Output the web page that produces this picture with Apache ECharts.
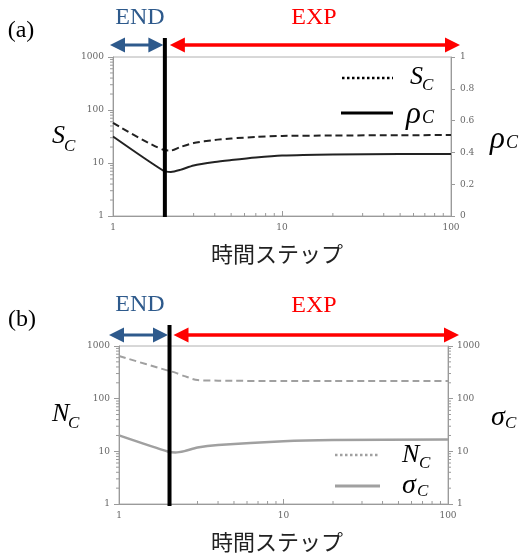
<!DOCTYPE html>
<html>
<head>
<meta charset="utf-8">
<script src="https://cdn.jsdelivr.net/npm/echarts@6/dist/echarts.min.js"></script>
<style>
html,body{margin:0;padding:0;background:#fff}
#main{width:520px;height:556px}
</style>
</head>
<body>
<div id="main"></div>
<script>
// 目盛り
var stepTicks = [1, 10, 100];
var logTicks = [1, 10, 100, 1000];
var rhoTicks = [0, 0.2, 0.4, 0.6, 0.8, 1];
var phaseSplit = 2; // END / EXP の境目

// (a) S_C と rho_C
var stepsA = [1, 2, 2.2, 2.5, 3, 4, 5, 7, 10, 20, 50, 100];
var scA = [57, 17.6, 17.2, 20, 23.8, 27.2, 29, 31, 32.4, 33, 33.5, 33.6];
var rhoA = [0.50, 0.283, 0.277, 0.29, 0.318, 0.34, 0.352, 0.368, 0.38, 0.387, 0.39, 0.39];

// (b) N_C と sigma_C
var stepsB = [1, 2, 2.2, 2.5, 3, 4, 10, 20, 100];
var ncB = [645, 338, 312, 268, 225, 220, 216, 216, 216];
var sigmaB = [20.1, 9.8, 9.5, 10.1, 11.8, 13.2, 15.6, 16.4, 16.7];

function pairs(xs, ys) {
    return xs.map(function (x, i) { return [x, ys[i]]; });
}

var chart = echarts.init(document.getElementById('main'));
var axisGray = '#9a9a9a';
var tickFont = {color: '#666', fontFamily: 'DejaVu Serif', fontSize: 9};
var serif = 'Liberation Serif';
var plain = function (v) { return String(v); };

function xAxisLog(gi) {
    return {
        type: 'log', logBase: 10, gridIndex: gi,
        min: stepTicks[0], max: stepTicks[stepTicks.length - 1],
        axisLine: {lineStyle: {color: axisGray}},
        axisTick: {inside: true, length: 5, lineStyle: {color: axisGray}},
        axisLabel: Object.assign({margin: 7, formatter: plain}, tickFont),
        splitLine: {show: false}
    };
}
function yAxisLog(gi, pos) {
    return {
        type: 'log', logBase: 10, gridIndex: gi, position: pos,
        min: logTicks[0], max: logTicks[logTicks.length - 1],
        axisLine: {show: true, lineStyle: {color: axisGray}},
        axisTick: {show: true, length: 5, lineStyle: {color: axisGray}},
        axisLabel: Object.assign({margin: 9, formatter: plain}, tickFont),
        splitLine: {show: false}
    };
}

var option = {
    animation: false,
    grid: [
        {left: 113, top: 57, width: 338, height: 159, show: true, borderColor: '#b0b0b0', borderWidth: 1},
        {left: 119, top: 346, width: 329, height: 158, show: true, borderColor: '#b0b0b0', borderWidth: 1}
    ],
    xAxis: [xAxisLog(0), xAxisLog(1)],
    yAxis: [
        yAxisLog(0, 'left'),
        {
            type: 'value', gridIndex: 0, position: 'right',
            min: rhoTicks[0], max: rhoTicks[rhoTicks.length - 1], interval: 0.2,
            axisLine: {show: true, lineStyle: {color: axisGray}},
            axisTick: {show: true, length: 4, lineStyle: {color: axisGray}},
            axisLabel: Object.assign({margin: 9}, tickFont),
            splitLine: {show: false}
        },
        yAxisLog(1, 'left'),
        yAxisLog(1, 'right')
    ],
    series: [
        {
            name: 'S_C', type: 'line', xAxisIndex: 0, yAxisIndex: 0,
            data: pairs(stepsA, scA), showSymbol: false, smooth: 0.25,
            lineStyle: {color: '#222', width: 2, type: [7, 4]}
        },
        {
            name: 'rho_C', type: 'line', xAxisIndex: 0, yAxisIndex: 1,
            data: pairs(stepsA, rhoA), showSymbol: false, smooth: 0.25,
            lineStyle: {color: '#222', width: 2}
        },
        {
            name: 'N_C', type: 'line', xAxisIndex: 1, yAxisIndex: 2,
            data: pairs(stepsB, ncB), showSymbol: false, smooth: 0.25,
            lineStyle: {color: '#a0a0a0', width: 2, type: [7, 4]}
        },
        {
            name: 'sigma_C', type: 'line', xAxisIndex: 1, yAxisIndex: 3,
            data: pairs(stepsB, sigmaB), showSymbol: false, smooth: 0.25,
            lineStyle: {color: '#a0a0a0', width: 2.5}
        }
    ]
};
chart.setOption(option);

// ここから注釈（矢印・記号・補助目盛り）
var g = [];
function txt(s, x, y, size, color, opts) {
    opts = opts || {};
    g.push({
        type: 'text', x: x, y: y, z: 100,
        style: {
            text: s, fill: color || '#000',
            font: (opts.italic ? 'italic ' : '') + size + 'px ' + (opts.family || serif),
            align: opts.align || 'center', verticalAlign: 'middle'
        }
    });
}
function seg(x1, y1, x2, y2, color, w, dash) {
    g.push({
        type: 'line', z: 100,
        shape: {x1: x1, y1: y1, x2: x2, y2: y2},
        style: {stroke: color, lineWidth: w, lineDash: dash || null}
    });
}
function arrow(x1, x2, y, color, w, head, hw) {
    seg(x1 + head - 1, y, x2 - head + 1, y, color, w);
    g.push({type: 'polygon', z: 100, shape: {points: [[x1, y], [x1 + head, y - hw], [x1 + head, y + hw]]}, style: {fill: color}});
    g.push({type: 'polygon', z: 100, shape: {points: [[x2, y], [x2 - head, y - hw], [x2 - head, y + hw]]}, style: {fill: color}});
}

var minorVals = [];
for (var d = 1; d <= 100; d *= 10) {
    for (var k = 2; k <= 9; k++) minorVals.push(k * d);
}

function panel(xi, yiL, yiR, logRight) {
    var x0 = chart.convertToPixel({xAxisIndex: xi}, 1);
    var x1 = chart.convertToPixel({xAxisIndex: xi}, 100);
    var y0 = chart.convertToPixel({yAxisIndex: yiL}, 1);
    minorVals.forEach(function (v) {
        if (v < 100) {
            var px = chart.convertToPixel({xAxisIndex: xi}, v);
            seg(px, y0, px, y0 - 3, axisGray, 1);
        }
        var py = chart.convertToPixel({yAxisIndex: yiL}, v);
        seg(x0 - 3, py, x0, py, axisGray, 1);
        if (logRight) {
            var pr = chart.convertToPixel({yAxisIndex: yiR}, v);
            seg(x1, pr, x1 + 3, pr, axisGray, 1);
        }
    });
    return chart.convertToPixel({xAxisIndex: xi}, phaseSplit);
}

// (a)
var splitA = panel(0, 0, 1, false);
seg(splitA + 1, 38, splitA + 1, 217, '#000', 4);
arrow(110, splitA - 0.5, 45, '#2E5A8C', 3, 15, 7.5);
arrow(splitA + 6, 460, 45, '#FF0000', 3.5, 15, 7.5);
txt('(a)', 21, 31, 24, '#000');
txt('END', 140, 18, 24, '#2E5A8C');
txt('EXP', 314, 18, 24, '#FF0000');
txt('時間ステップ', 277, 254, 22, '#222', {family: 'Noto Sans CJK JP'});
txt('S', 52, 136, 26, '#000', {italic: true, align: 'left'});
txt('C', 64, 147, 17, '#000', {italic: true, align: 'left'});
txt('ρ', 490, 140, 31, '#000', {italic: true, align: 'left'});
txt('C', 506, 143, 18, '#000', {italic: true, align: 'left'});
// 凡例 (a)
seg(342, 78, 393, 78, '#000', 2.5, [2.5, 2.5]);
txt('S', 410, 77, 26, '#000', {italic: true, align: 'left'});
txt('C', 422, 86, 17, '#000', {italic: true, align: 'left'});
seg(341, 113, 393, 113, '#000', 3);
txt('ρ', 406, 115, 31, '#000', {italic: true, align: 'left'});
txt('C', 422, 118, 18, '#000', {italic: true, align: 'left'});

// (b)
var splitB = panel(1, 2, 3, true);
seg(splitB + 1, 325, splitB + 1, 506, '#000', 4);
arrow(109, splitB - 0.5, 335, '#2E5A8C', 3, 15, 7.5);
arrow(splitB + 5, 459, 335, '#FF0000', 3.5, 15, 7.5);
txt('(b)', 22, 320, 24, '#000');
txt('END', 140, 305, 24, '#2E5A8C');
txt('EXP', 314, 306, 24, '#FF0000');
txt('時間ステップ', 277, 542, 22, '#222', {family: 'Noto Sans CJK JP'});
txt('N', 52, 414, 26, '#000', {italic: true, align: 'left'});
txt('C', 68, 424, 17, '#000', {italic: true, align: 'left'});
txt('σ', 491, 418, 28, '#000', {italic: true, align: 'left'});
txt('C', 505, 424, 17, '#000', {italic: true, align: 'left'});
// 凡例 (b)
seg(335, 455, 380, 455, '#a0a0a0', 2.5, [2.5, 2.5]);
txt('N', 402, 455, 26, '#000', {italic: true, align: 'left'});
txt('C', 419, 464, 17, '#000', {italic: true, align: 'left'});
seg(335, 486, 380, 486, '#a0a0a0', 3);
txt('σ', 402, 486, 28, '#000', {italic: true, align: 'left'});
txt('C', 417, 492, 17, '#000', {italic: true, align: 'left'});

chart.setOption({graphic: {elements: g}});
</script>
</body>
</html>
